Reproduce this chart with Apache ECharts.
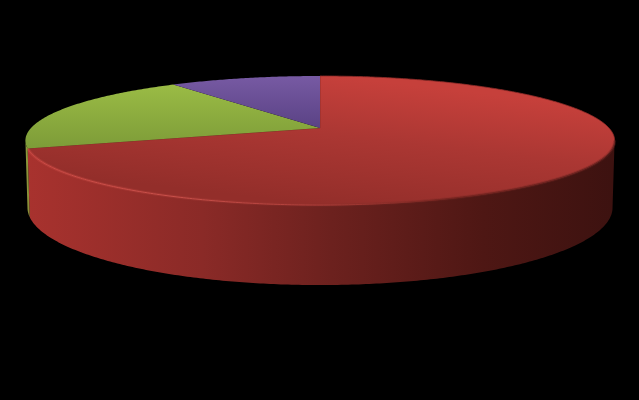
<!DOCTYPE html>
<html>
<head>
<meta charset="utf-8">
<style>html,body{margin:0;padding:0;background:#000}#c{width:639px;height:400px}</style>
<script src="https://cdn.jsdelivr.net/npm/echarts@6/dist/echarts.min.js"></script>
</head>
<body>
<div id="c"></div>
<script>
var categories = ['Slice 1', 'Slice 2', 'Slice 3'];
var values = [70, 20, 10];

var CX = 320, CY = 128, RX = 289, RY = 62.1, K = 0.194, H = 64.5, BOTTOM_X = 0.993;
var total = values.reduce(function (a, b) { return a + b; }, 0);

function top3d(t) {
  var u = Math.sin(t), v = -Math.cos(t), w = 1 - K * v;
  return [CX + RX * u / w, CY + RY * v / w];
}
function bottom3d(t) {
  var u = Math.sin(t), v = -Math.cos(t), w = 1 - K * v;
  return [CX + BOTTOM_X * RX * u / w, CY + (RY * v + H) / w];
}
function arc(fn, a, b) {
  var n = Math.max(2, Math.ceil(Math.abs(b - a) / 0.01)), pts = [];
  for (var i = 0; i <= n; i++) pts.push(fn(a + (b - a) * i / n));
  return pts;
}
var LG = function (x0, y0, x1, y1, stops) {
  return new echarts.graphic.LinearGradient(x0, y0, x1, y1,
    stops.map(function (s) { return { offset: s[0], color: s[1] }; }), true);
};
var topFills = [
  function () { return LG(335, 76, 320, 205, [[0, '#c6403b'], [0.45, '#ab3733'], [1, '#932e2a']]); },
  function () { return LG(0, 85, 0, 148, [[0, '#9abb45'], [1, '#7d9c38']]); },
  function () { return LG(0, 76, 0, 128, [[0, '#775aa3'], [1, '#5a4285']]); }
];
var wallFills = [
  function () { return LG(28, 0, 612, 0, [[0, '#a8322e'], [0.3, '#8a2a27'], [0.52, '#6c211e'], [0.78, '#4e1714'], [1, '#3d1210']]); },
  function () { return LG(25, 0, 30, 0, [[0, '#8c9e3c'], [1, '#8a8a38']]); },
  function () { return '#4a3670'; }
];
var rimFill = function () {
  return LG(28, 0, 612, 0, [[0, '#d04c46'], [0.25, '#c9504a'], [0.5, '#ad3e39'], [0.72, '#75241f'], [1, '#6a2320']]);
};
var rimGlow = function () {
  return LG(28, 0, 612, 0, [[0, 'rgba(200,70,64,0.45)'], [0.35, 'rgba(170,60,55,0.3)'], [0.6, 'rgba(120,40,36,0.25)'], [1, 'rgba(110,35,32,0.35)']]);
};

// the wall is only seen between the two silhouette points of the rim
var VIS_A = Math.acos(-K), VIS_B = 2 * Math.PI - VIS_A;

function renderItem(params, api) {
  var i = params.dataIndex, before = 0;
  for (var j = 0; j < i; j++) before += values[j];
  var a = before / total * 2 * Math.PI;
  var b = (before + api.value(0)) / total * 2 * Math.PI;
  var kids = [];
  var wa = Math.max(a, VIS_A), wb = Math.min(b, VIS_B);
  if (wb > wa) {
    kids.push({
      type: 'polygon',
      shape: { points: arc(top3d, wa, wb).concat(arc(bottom3d, wb, wa)) },
      style: { fill: wallFills[i]() }
    });
  }
  kids.push({
    type: 'polygon',
    shape: { points: [[CX, CY]].concat(arc(top3d, a, b)) },
    style: { fill: topFills[i](), stroke: i === 0 ? '#8e2b28' : null, lineWidth: i === 0 ? 0.8 : 0 }
  });
  if (wb > wa && i === 0) {
    kids.push({
      type: 'polyline',
      shape: { points: arc(top3d, wa, wb) },
      style: { fill: null, stroke: rimGlow(), lineWidth: 3 }
    });
    kids.push({
      type: 'polyline',
      shape: { points: arc(top3d, wa, wb) },
      style: { fill: null, stroke: rimFill(), lineWidth: 1 }
    });
  }
  return { type: 'group', children: kids };
}

var chart = echarts.init(document.getElementById('c'), null, { renderer: 'canvas' });
chart.setOption({
  backgroundColor: '#000000',
  animation: false,
  series: [{
    type: 'custom',
    coordinateSystem: 'none',
    renderItem: renderItem,
    encode: { value: 0, itemName: 1 },
    data: values.map(function (v, i) { return [v, categories[i]]; })
  }]
});
</script>
</body>
</html>
